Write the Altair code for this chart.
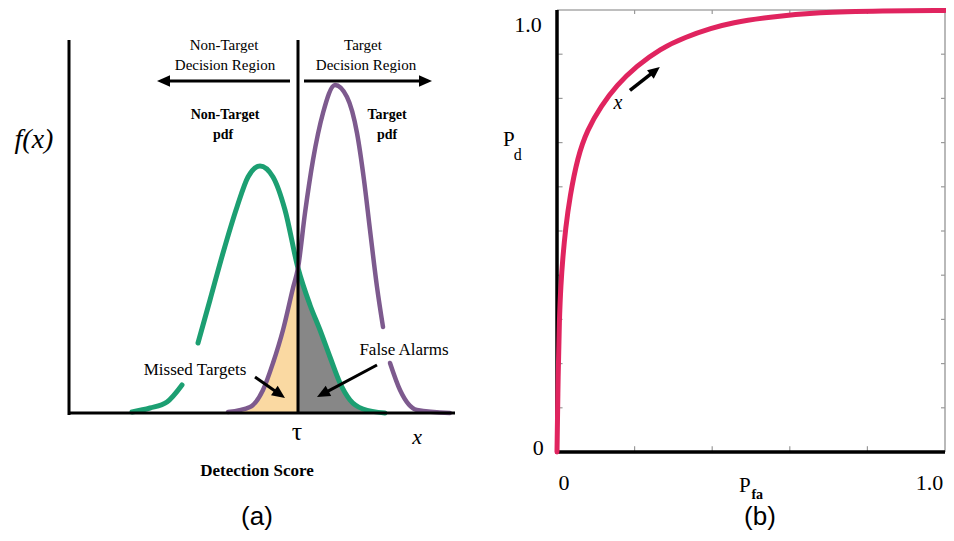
import math
import altair as alt
import pandas as pd

W, H = 938, 525

# ---------------- Panel (a): detection-score densities ----------------
green_x = [6.3, 8.1, 9.8, 11.3, 12.9, 14.1, 15.4, 16.8, 17.9, 19.1, 20.4, 21.6, 22.9, 24.1, 25.1, 26.1, 27.1, 28.1, 29.4, 31.6]
green_y = [0.01, 0.05, 0.11, 0.28, 0.70, 1.13, 1.60, 2.06, 2.36, 2.47, 2.36, 2.03, 1.45, 1.08, 0.83, 0.56, 0.30, 0.13, 0.04, 0.0]
green_seg = [0, 0, 0, 0, 1, 1, 1, 1, 1, 1, 1, 1, 1, 1, 1, 1, 1, 1, 1, 1]

purple_x = [15.9, 18.1, 19.4, 20.4, 21.4, 22.4, 22.9, 23.6, 24.4, 25.4, 26.6, 27.8, 28.8, 29.5, 30.1, 30.8, 31.4, 32.1, 33.1, 34.8, 38.1]
purple_y = [0.01, 0.06, 0.23, 0.50, 0.83, 1.25, 1.45, 2.00, 2.53, 3.00, 3.28, 3.16, 2.80, 2.33, 1.83, 1.26, 0.86, 0.50, 0.23, 0.03, 0.0]
purple_seg = [0] * 17 + [1] * 4

tau = 22.9
axis_top = 3.73
x_end = 38.6

# ---------------- Panel (b): ROC curve ----------------
roc_fa = [0.0, 0.003, 0.006, 0.010, 0.015, 0.022, 0.033, 0.053, 0.078, 0.114, 0.154, 0.205, 0.265, 0.331, 0.399, 0.449, 0.545, 0.672, 0.841, 1.0]
roc_d = [0.0, 0.18, 0.30, 0.38, 0.44, 0.505, 0.577, 0.667, 0.729, 0.783, 0.830, 0.873, 0.912, 0.939, 0.959, 0.971, 0.984, 0.995, 0.998, 0.999]
x_ticks_b = [0.2, 0.4, 0.6, 0.8]
y_ticks_b = [0.1, 0.2, 0.3, 0.4, 0.5, 0.6, 0.7, 0.8, 0.9]

GREEN = "#1C9F72"
PURPLE = "#7D5A8E"
ORANGE = "#FAD9A2"
GREY = "#878787"
ROC = "#E0245F"
SERIF = "Liberation Serif"
SANS = "Liberation Sans"


def x_domain(px0, k):
    return [-px0 / k, (W - px0) / k]


def y_domain(py0, k):
    return [-(H - py0) / k, py0 / k]


# layout anchors (view pixels) and pixels per data unit
A_KX, A_KY = 10.0, 100.0
XA = x_domain(61, A_KX)
YA = y_domain(405, A_KY)
B_KX, B_KY = 388.0, 442.0
XB = x_domain(549, B_KX)
YB = y_domain(444, B_KY)


def sx(dom):
    return alt.Scale(domain=dom, nice=False, zero=False)


def enc_xy(xd, yd, xf="x", yf="y"):
    return dict(
        x=alt.X(f"{xf}:Q", scale=sx(xd), axis=None),
        y=alt.Y(f"{yf}:Q", scale=sx(yd), axis=None),
    )


def text_layer(rows, xd, yd, size, font=SERIF, weight="normal", style="normal", align="center"):
    df = pd.DataFrame(rows, columns=["label", "x", "y"])
    return alt.Chart(df).mark_text(
        font=font, fontSize=size, fontWeight=weight, fontStyle=style,
        align=align, baseline="middle", color="black", clip=False,
    ).encode(text="label:N", **enc_xy(xd, yd))


def rule_layer(rows, xd, yd, width, color="black"):
    df = pd.DataFrame(rows, columns=["x", "y", "x2", "y2"])
    return alt.Chart(df).mark_rule(strokeWidth=width, color=color, strokeCap="butt").encode(
        x2="x2:Q", y2="y2:Q", **enc_xy(xd, yd))


HEAD = "M0,0L-0.9,2L0.9,2Z"


def arrow_layers(rows, xd, yd, kx, ky, width=3, head=12):
    lines, heads = [], []
    for xs, ys, xt, yt in rows:
        dxp = (xt - xs) * kx
        dyp = -(yt - ys) * ky
        L = math.hypot(dxp, dyp)
        ux, uy = dxp / L, dyp / L
        ang = math.degrees(math.atan2(ux, -uy)) % 360
        back = head * 0.8
        xe = xt - ux * back / kx
        ye = yt + uy * back / ky
        lines.append((xs, ys, xe, ye))
        heads.append((xt, yt, ang))
    hdf = pd.DataFrame(heads, columns=["x", "y", "ang"])
    h = alt.Chart(hdf).mark_point(
        shape=HEAD, filled=True, size=(head / 2) ** 2 * 4, color="black", opacity=1, strokeWidth=0
    ).encode(angle=alt.Angle("ang:Q", scale=None), **enc_xy(xd, yd))
    return [rule_layer(lines, xd, yd, width), h]


# ---------- panel (a) layers ----------
green_df = pd.DataFrame({"x": green_x, "y": green_y, "seg": green_seg})
purple_df = pd.DataFrame({"x": purple_x, "y": purple_y, "seg": purple_seg})
orange_df = purple_df[purple_df["x"] <= tau]
grey_df = green_df[green_df["x"] >= tau]

fill_orange = alt.Chart(orange_df).mark_area(color=ORANGE, interpolate="monotone", opacity=1).encode(
    y2=alt.datum(0), **enc_xy(XA, YA))
fill_grey = alt.Chart(grey_df).mark_area(color=GREY, interpolate="monotone", opacity=1).encode(
    y2=alt.datum(0), **enc_xy(XA, YA))
line_green = alt.Chart(green_df).mark_line(color=GREEN, strokeWidth=5, interpolate="monotone", strokeCap="round").encode(
    detail="seg:N", **enc_xy(XA, YA))
line_purple = alt.Chart(purple_df).mark_line(color=PURPLE, strokeWidth=4.5, interpolate="monotone", strokeCap="round").encode(
    detail="seg:N", **enc_xy(XA, YA))

axes_a = rule_layer([(0, -0.02, 0, axis_top), (0, 0, x_end, 0), (tau, 0, tau, axis_top)], XA, YA, 3)

arrows_a = arrow_layers(
    [(22.1, 3.32, 8.8, 3.32), (23.5, 3.32, 36.3, 3.32), (18.6, 0.36, 21.6, 0.15), (30.8, 0.48, 24.8, 0.16)],
    XA, YA, A_KX, A_KY, width=3, head=13)

texts_a = [
    text_layer([("Non-Target", 15.5, 3.68), ("Decision Region", 15.6, 3.48),
                ("Target", 29.4, 3.68), ("Decision Region", 29.7, 3.48)], XA, YA, 15),
    text_layer([("Non-Target", 15.6, 2.98), ("pdf", 15.4, 2.78),
                ("Target", 31.8, 2.98), ("pdf", 31.8, 2.78)], XA, YA, 14, weight="bold"),
    text_layer([("f(x)", -3.5, 2.73)], XA, YA, 28, style="italic"),
    text_layer([("τ", 22.8, -0.19)], XA, YA, 26),
    text_layer([("x", 34.8, -0.24)], XA, YA, 22, style="italic"),
    text_layer([("Detection Score", 18.8, -0.58)], XA, YA, 17, weight="bold"),
    text_layer([("Missed Targets", 12.6, 0.43), ("False Alarms", 33.5, 0.63)], XA, YA, 17),
    text_layer([("(a)", 18.8, -1.04)], XA, YA, 26, font=SANS),
]

panel_a = alt.layer(fill_orange, fill_grey, line_green, line_purple, axes_a, *arrows_a, *texts_a)

# ---------- panel (b) layers ----------
tl = 4.0
tick_rows = []
for v in y_ticks_b:
    tick_rows.append((0, v, tl / B_KX + 0.004, v))
    tick_rows.append((1, v, 1 - tl / B_KX, v))
for v in x_ticks_b:
    tick_rows.append((v, 0, v, tl / B_KY + 0.004))
    tick_rows.append((v, 1, v, 1 - tl / B_KY))
ticks_b = rule_layer(tick_rows, XB, YB, 1.2, color="#9a9a9a")
border_b = rule_layer([(0, 1, 1, 1), (1, 0, 1, 1)], XB, YB, 1.6, color="#a8a8a8")
axes_b = rule_layer([(0, 0, 0, 1), (-0.004, 0, 1, 0)], XB, YB, 3.5)

roc_df = pd.DataFrame({"x": roc_fa, "y": roc_d})
line_roc = alt.Chart(roc_df).mark_line(color=ROC, strokeWidth=5, interpolate="basis", strokeCap="round").encode(
    **enc_xy(XB, YB))

arrows_b = arrow_layers([(0.188, 0.818, 0.265, 0.871)], XB, YB, B_KX, B_KY, width=3.5, head=12)

texts_b = [
    text_layer([("1.0", -0.039, 0.966), ("0", -0.034, 0.009)], XB, YB, 22, align="right"),
    text_layer([("0", 0.018, -0.070), ("1.0", 0.96, -0.070)], XB, YB, 22),
    text_layer([("P", -0.124, 0.705), ("P", 0.484, -0.077)], XB, YB, 21),
    text_layer([("d", -0.101, 0.672)], XB, YB, 16),
    text_layer([("fa", 0.516, -0.098)], XB, YB, 14, weight="bold"),
    text_layer([("x", 0.157, 0.790)], XB, YB, 20, style="italic"),
    text_layer([("(b)", 0.523, -0.147)], XB, YB, 26, font=SANS),
]

panel_b = alt.layer(border_b, ticks_b, axes_b, line_roc, *arrows_b, *texts_b)

chart = alt.layer(panel_a, panel_b).resolve_scale(
    x="independent", y="independent"
).properties(
    width=W, height=H, padding=0, autosize=alt.AutoSizeParams(type="none"), background="white"
).configure_view(stroke=None)

chart.save("out.html", embed_options={"renderer": "svg", "actions": False})
